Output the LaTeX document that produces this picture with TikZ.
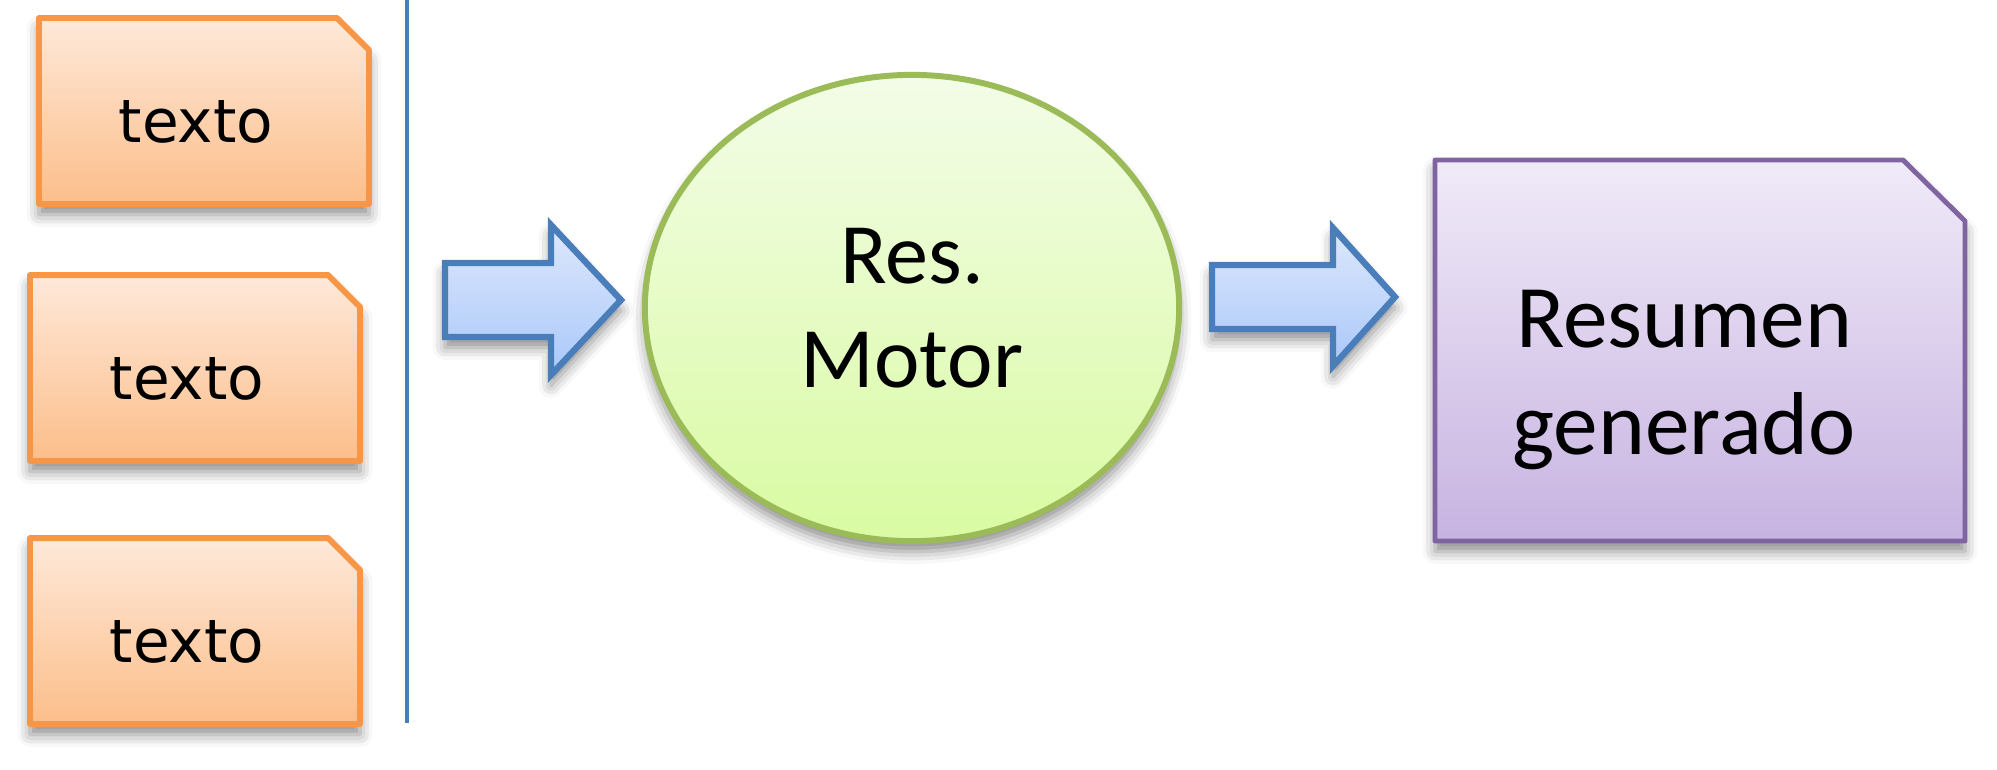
\documentclass[tikz,border=0pt]{standalone}
\usepackage{fontspec}
\setmainfont{Carlito}
\newfontfamily\textofont{DejaVu Sans}
\usetikzlibrary{shapes.geometric,shadows.blur}

\definecolor{naranja}{HTML}{F79646}
\definecolor{naranjaA}{HTML}{FEE9DA}
\definecolor{naranjaB}{HTML}{FCBE8A}
\definecolor{azul}{HTML}{4A7EBB}
\definecolor{azulA}{HTML}{DDE8FB}
\definecolor{azulB}{HTML}{AAC8FA}
\definecolor{verde}{HTML}{9BBB59}
\definecolor{verdeA}{HTML}{F3FCE8}
\definecolor{verdeB}{HTML}{D9FBA2}
\definecolor{morado}{HTML}{8064A2}
\definecolor{moradoA}{HTML}{F0EAF8}
\definecolor{moradoB}{HTML}{C7B3E1}

\tikzset{
	sombra/.style={blur shadow={shadow xshift=0pt, shadow yshift=-3pt, shadow blur radius=3.5pt, shadow opacity=45}},
	doc/.style={draw=naranja, line width=1.7pt, line join=round, top color=naranjaA, bottom color=naranjaB, sombra},
	texto/.style={inner sep=0pt, font=\textofont\fontsize{17}{20}\selectfont},
	motor/.style={ellipse, draw=verde, line width=1.7pt, top color=verdeA, bottom color=verdeB,
		minimum width=5.34cm, minimum height=4.66cm, inner sep=0pt, align=center, font=\fontsize{24.5}{29.7}\selectfont, sombra},
	hoja/.style={draw=morado, line width=1.4pt, line join=round, top color=moradoA, bottom color=moradoB, sombra},
	resumen/.style={inner sep=0pt, align=center, font=\fontsize{25.4}{30.2}\selectfont},
	flecha/.style={draw=azul, line width=1.8pt, top color=azulA, bottom color=azulB, sombra}
}

\begin{document}
\begin{tikzpicture}[x=0.01cm, y=-0.01cm]
	\useasboundingbox (0,0) rectangle (1997,769);
	% documentos de entrada
	\foreach \n/\x/\y in {t1/204/111, t2/195/368, t3/195/631}
	{
		\path[doc] (\x-165,\y+93) -- (\x-165,\y-93) -- (\x+133,\y-93) -- (\x+165,\y-61) -- (\x+165,\y+93) -- cycle;
		\node[texto] (\n) at (\x-8,\y+11) {texto};
	}
	\draw[azul, line width=1.3pt] (407,0) coordinate(l0) -- (407,723) coordinate(l1);
	% motor
	\node[motor] (m) at (912,308) {Res.\\Motor};
	% resumen generado
	\path[hoja] (1435,541) -- (1435,160) -- (1903,160) -- (1965,221) -- (1965,541) -- cycle;
	\node[resumen] (r) at (1684,380) {Resumen\\generado};
	% flechas
	\foreach \n/\xa/\xb/\xc/\ym/\s/\h in {a/445/551/621/300/37/75, b/1212/1333/1395/297/32/69}
	{
		\path[flecha] (\xa,\ym-\s) coordinate(\n0) -- (\xb,\ym-\s) -- (\xb,\ym-\h) -- (\xc,\ym) coordinate(\n1)
			-- (\xb,\ym+\h) -- (\xb,\ym+\s) -- (\xa,\ym+\s) -- cycle;
	}
\end{tikzpicture}
\end{document}
